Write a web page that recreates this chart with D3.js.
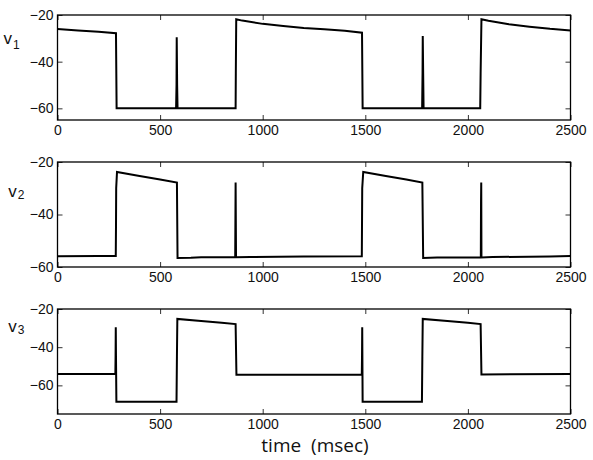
<!DOCTYPE html>
<html>
<head>
<meta charset="utf-8">
<script src="https://cdn.jsdelivr.net/npm/d3@7"></script>
<style>
  html, body { margin: 0; padding: 0; background: #fff; }
  svg { display: block; }
</style>
</head>
<body>
<svg id="chart" width="593" height="460"></svg>
<script>
// ---- data ----
const xTicks = [0, 500, 1000, 1500, 2000, 2500];
const yTicks = [-60, -40, -20];

const v1Time = [0, 100, 200, 285, 288, 578, 580, 581, 583, 585, 868, 869, 871, 900, 1000, 1100, 1200, 1300, 1400, 1484, 1487, 1777, 1779, 1780, 1782, 1784, 2060, 2062, 2066, 2100, 2200, 2300, 2400, 2500];
const v1Vals = [-26.0, -26.6, -27.2, -27.8, -60, -60, -50, -29.5, -50, -60, -60, -45, -21.8, -22.4, -23.8, -24.7, -25.6, -26.1, -26.8, -27.6, -60, -60, -45, -29.0, -45, -60, -60, -45, -21.8, -22.5, -24.0, -25.0, -25.9, -26.6];

const v2Time = [0, 200, 284, 285, 286, 290, 400, 500, 582, 585, 650, 700, 866, 868, 870, 940, 1200, 1483, 1485, 1490, 1600, 1700, 1778, 1782, 1850, 2063, 2064, 2065, 2066, 2120, 2400, 2500];
const v2Vals = [-55.9, -55.8, -55.8, -45, -30, -23.8, -25.3, -26.7, -27.8, -56.6, -56.5, -56.3, -56.3, -27.8, -56.3, -56.2, -56.0, -55.9, -30, -23.8, -25.3, -26.7, -27.8, -56.6, -56.4, -56.4, -35, -27.8, -56.4, -56.2, -56.0, -55.8];

const v3Time = [0, 282, 283, 284, 285, 287, 580, 582, 584, 700, 800, 868, 872, 1483, 1484, 1485, 1487, 1776, 1778, 1780, 1900, 2000, 2062, 2066, 2500];
const v3Vals = [-54.0, -54.0, -45, -29.6, -45, -68.6, -68.6, -45, -25.2, -26.3, -27.2, -27.9, -54.4, -54.3, -45, -29.6, -68.6, -68.6, -45, -25.2, -26.3, -27.2, -27.9, -54.3, -54.0];

const panels = [
  { name: "v", sub: "1", time: v1Time, vals: v1Vals, yDomain: [-65, -20], top: 15, bottom: 120, labX: 3.5, labY: 44, subDx: 9.5, subDy: 5 },
  { name: "v", sub: "2", time: v2Time, vals: v2Vals, yDomain: [-60, -20], top: 162, bottom: 267, labX: 8.3, labY: 197, subDx: 9, subDy: 2 },
  { name: "v", sub: "3", time: v3Time, vals: v3Vals, yDomain: [-75, -20], top: 309, bottom: 414, labX: 8.3, labY: 332, subDx: 9, subDy: 2 }
];

// ---- drawing ----
const svg = d3.select("#chart");
const left = 57.5, right = 570.5;
const tickFont = "'Liberation Sans', Arial, Helvetica, sans-serif";

panels.forEach(p => {
  const x = d3.scaleLinear().domain([0, 2500]).range([left, right]);
  const y = d3.scaleLinear().domain(p.yDomain).range([p.bottom, p.top]);
  const g = svg.append("g");

  // data line
  const pts = p.time.map((t, i) => [t, p.vals[i]]);
  g.append("path")
    .datum(pts)
    .attr("fill", "none")
    .attr("stroke", "#000")
    .attr("stroke-width", 2)
    .attr("stroke-linejoin", "miter")
    .attr("d", d3.line().x(d => x(d[0])).y(d => y(d[1])));

  // axes with inward ticks
  const styleAxis = sel => {
    sel.select(".domain").remove();
    sel.selectAll(".tick line").attr("stroke", "#333").attr("stroke-width", 1);
    sel.selectAll(".tick text").attr("fill", "#111").style("font-family", tickFont).style("font-size", "14px");
  };
  g.append("g").attr("transform", `translate(0,${p.bottom})`)
    .call(d3.axisBottom(x).tickValues(xTicks).tickSize(-5).tickPadding(5).tickFormat(d3.format("d")))
    .call(styleAxis);
  g.append("g").attr("transform", `translate(0,${p.top})`)
    .call(d3.axisTop(x).tickValues(xTicks).tickSize(-5).tickFormat(""))
    .call(styleAxis);
  g.append("g").attr("transform", `translate(${left},0)`)
    .call(d3.axisLeft(y).tickValues(yTicks).tickSize(-5).tickPadding(4).tickFormat(d3.format("d")))
    .call(styleAxis);
  g.append("g").attr("transform", `translate(${right},0)`)
    .call(d3.axisRight(y).tickValues(yTicks).tickSize(-5).tickFormat(""))
    .call(styleAxis);

  // frame
  g.append("rect")
    .attr("x", left).attr("y", p.top)
    .attr("width", right - left).attr("height", p.bottom - p.top)
    .attr("fill", "none").attr("stroke", "#000").attr("stroke-width", 1.3);

  // panel label v_n
  const lab = g.append("text")
    .attr("x", p.labX).attr("y", p.labY)
    .style("font-family", tickFont).style("font-size", "17px").attr("fill", "#111");
  lab.append("tspan").text(p.name);
  lab.append("tspan").attr("dx", 1).attr("dy", p.subDy).style("font-size", "12px").text(p.sub);
});

svg.append("text")
  .attr("x", 315).attr("y", 452)
  .attr("text-anchor", "middle")
  .style("font-family", "'Open Sans', sans-serif")
  .style("font-size", "19px")
  .attr("fill", "#111")
  .attr("xml:space", "preserve")
  .style("white-space", "pre")
  .text("time  (msec)");
</script>
</body>
</html>
